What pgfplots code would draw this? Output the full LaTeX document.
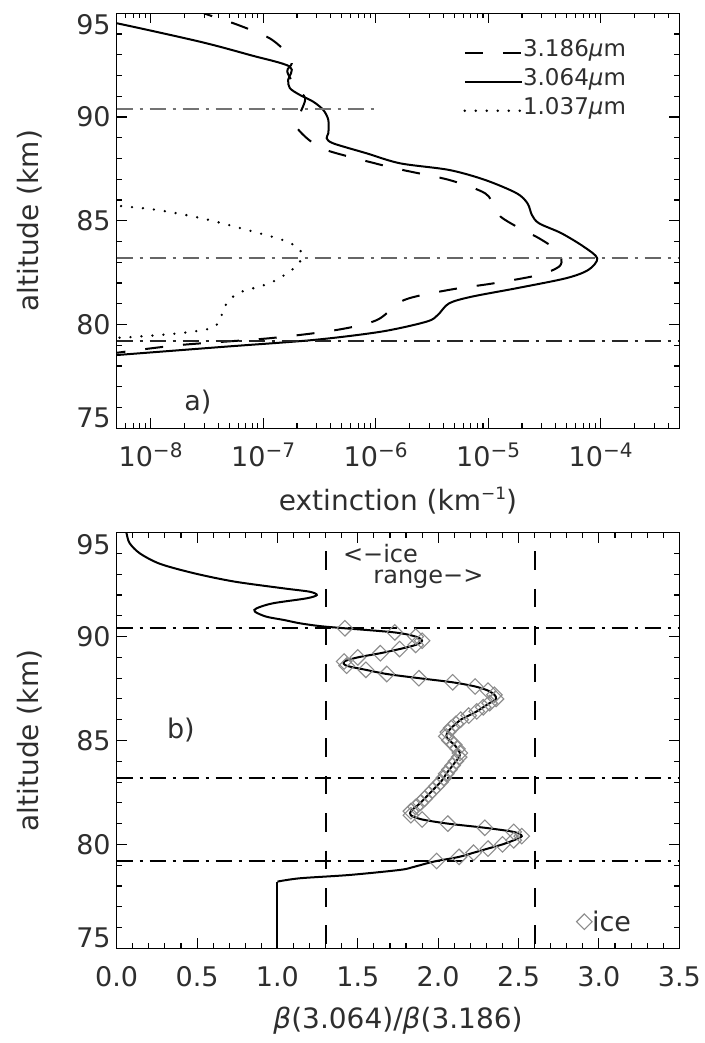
\documentclass[border=0pt]{standalone}
\usepackage{fontspec}
\setmainfont{DejaVu Sans}
\usepackage{pgfplots}
\usepackage{pgfplotstable}
\pgfplotsset{compat=1.18}

% extinction profiles: x = extinction (km^-1), y = altitude (km)
\pgfplotstableread{
x y
2.60e-8 95.30
3.00e-8 95.00
5.98e-8 94.44
1.14e-7 93.80
1.64e-7 93.07
1.80e-7 92.59
1.64e-7 92.19
1.98e-7 91.39
2.37e-7 90.90
2.13e-7 90.18
1.94e-7 89.62
2.37e-7 89.05
3.13e-7 88.57
4.52e-7 88.25
1.49e-6 87.53
4.49e-6 86.97
9.38e-6 86.33
1.13e-5 85.68
1.29e-5 85.20
1.79e-5 84.72
2.83e-5 84.16
4.08e-5 83.59
4.48e-5 83.19
4.27e-5 82.79
2.83e-5 82.39
1.13e-5 81.99
4.49e-6 81.67
1.79e-6 81.18
1.03e-6 80.22
4.52e-7 79.74
1.14e-7 79.34
1.81e-8 79.01
5.00e-9 78.64
4.00e-9 78.60
}\extC

\pgfplotstableread{
x y
4.00e-9 94.56
5.00e-9 94.52
2.75e-8 93.63
7.64e-8 92.99
1.73e-7 92.43
1.67e-7 91.79
1.73e-7 91.39
2.13e-7 91.06
2.79e-7 90.74
3.43e-7 90.34
3.80e-7 89.86
3.80e-7 89.22
3.67e-7 88.98
4.21e-7 88.73
8.34e-7 88.25
1.65e-6 87.77
4.50e-6 87.45
9.38e-6 86.97
1.79e-5 86.33
2.24e-5 85.84
2.45e-5 85.28
2.83e-5 84.88
4.48e-5 84.40
7.08e-5 83.75
9.33e-5 83.19
7.76e-5 82.63
4.91e-5 82.23
1.79e-5 81.75
7.11e-6 81.34
4.49e-6 81.02
3.57e-6 80.46
2.84e-6 80.14
1.13e-6 79.66
2.85e-7 79.26
4.54e-8 78.93
5.00e-9 78.53
4.00e-9 78.50
}\extB

\pgfplotstableread{
x y
5.47e-9 85.71
1.15e-8 85.52
2.86e-8 85.12
7.19e-8 84.56
1.50e-7 84.07
2.07e-7 83.67
2.21e-7 83.19
1.80e-7 82.63
1.14e-7 81.99
5.98e-8 81.51
4.54e-8 80.86
4.14e-8 80.22
3.44e-8 79.82
1.81e-8 79.58
7.23e-9 79.41
5.00e-9 79.36
}\extA

% backscatter ratio profile: x = beta(3.064)/beta(3.186), y = altitude (km)
\pgfplotstableread{
x y
0.050 95.20
0.060 95.00
0.080 94.50
0.145 94.00
0.270 93.50
0.480 93.05
0.730 92.65
1.040 92.32
1.200 92.16
1.245 92.00
1.180 91.84
0.970 91.60
0.870 91.36
0.860 91.20
0.930 90.96
1.040 90.80
1.140 90.64
1.270 90.50
1.420 90.40
1.730 90.20
1.860 90.00
1.900 89.80
1.860 89.60
1.760 89.40
1.640 89.20
1.500 89.00
1.415 88.80
1.430 88.60
1.550 88.40
1.680 88.20
1.880 88.00
2.090 87.80
2.230 87.60
2.310 87.40
2.350 87.20
2.360 87.00
2.320 86.80
2.280 86.60
2.240 86.40
2.190 86.20
2.140 86.00
2.110 85.80
2.080 85.60
2.060 85.40
2.050 85.20
2.070 85.00
2.100 84.80
2.120 84.60
2.135 84.40
2.130 84.20
2.110 84.00
2.090 83.80
2.070 83.60
2.050 83.40
2.035 83.20
2.015 83.00
1.990 82.80
1.965 82.60
1.940 82.40
1.915 82.20
1.890 82.00
1.860 81.80
1.830 81.60
1.830 81.40
1.900 81.20
2.060 81.00
2.290 80.80
2.470 80.60
2.520 80.40
2.470 80.20
2.400 80.00
2.310 79.80
2.220 79.60
2.130 79.40
1.990 79.20
1.930 79.09
1.840 78.90
1.760 78.77
1.450 78.53
1.140 78.37
1.000 78.21
}\ratio

\definecolor{icegray}{gray}{0.55}
\definecolor{ink}{gray}{0.18}

% strut that sets the height of each legend row
\newcommand{\legstrut}{\rule{0pt}{27.5pt}}

\pgfplotsset{
  panel/.style={
    scale only axis,
    width=562.6pt,
    height=415pt,
    anchor=south west,
    axis line style={line width=1.4pt},
    tick style={line width=1.1pt, black},
    major tick length=10pt,
    minor tick length=5pt,
    tick align=inside,
    ymin=75, ymax=95,
    ytick={75,80,85,90,95},
    minor ytick={76,77,78,79,81,82,83,84,86,87,88,89,91,92,93,94},
    yticklabels={\raisebox{1.2pt}[0pt][0pt]{75},80,85,90,\raisebox{-21.5pt}[0pt][0pt]{95}},
    tick label style={font=\fontsize{27}{32}\selectfont, text=ink},
    yticklabel style={xshift=-2.5pt},
    every axis y label/.style={at={(axis description cs:-0.155,0.5)},rotate=90,anchor=center,
      font=\fontsize{28}{33}\selectfont, text=ink},
    every axis x label/.style={at={(axis description cs:0.5,-0.175)},anchor=center,
      font=\fontsize{28}{33}\selectfont, text=ink},
    ylabel={altitude (km)},
  },
  dashdotline/.style={line width=1.9pt, dash pattern=on 16pt off 7pt on 3pt off 7pt},
  curve/.style={line width=2pt, black, smooth},
}

\begin{document}
\begin{tikzpicture}[x=1pt,y=1pt]
\path[use as bounding box] (0,0) rectangle (704,1043);

% a) extinction profiles
\begin{axis}[panel,
  at={(116.7pt,614.7pt)},
  xmode=log, log basis x=10,
  xmin=5e-9, xmax=5e-4,
  xtick={1e-8,1e-7,1e-6,1e-5,1e-4},
  xticklabels={10\raisebox{9pt}{\fontsize{20}{20}\selectfont −8},
               10\raisebox{9pt}{\fontsize{20}{20}\selectfont −7},
               10\raisebox{9pt}{\fontsize{20}{20}\selectfont −6},
               10\raisebox{9pt}{\fontsize{20}{20}\selectfont −5},
               10\raisebox{9pt}{\fontsize{20}{20}\selectfont −4}},
  minor xtick={6e-9,7e-9,8e-9,9e-9,
    2e-8,3e-8,4e-8,5e-8,6e-8,7e-8,8e-8,9e-8,
    2e-7,3e-7,4e-7,5e-7,6e-7,7e-7,8e-7,9e-7,
    2e-6,3e-6,4e-6,5e-6,6e-6,7e-6,8e-6,9e-6,
    2e-5,3e-5,4e-5,5e-5,6e-5,7e-5,8e-5,9e-5,
    2e-4,3e-4,4e-4},
  xticklabel style={yshift=-11pt},
  xlabel={extinction (km\raisebox{11pt}{\fontsize{17}{17}\selectfont −1})},
  legend style={draw=none, fill=none, at={(axis description cs:0.616,0.962)},
    anchor=north west, inner sep=0pt,
    nodes={inner sep=0pt, text=ink},
    font=\fontsize{23}{27}\selectfont},
  legend cell align=left,
  legend image code/.code={\draw[#1] (0pt,-9pt) -- (57pt,-9pt);},
]
\addplot[curve, dash pattern=on 18pt off 20pt] table {\extC};
\addlegendentry{\legstrut 3.186{\itshape μ}m}
\addplot[curve] table {\extB};
\addlegendentry{\legstrut 3.064{\itshape μ}m}
\addplot[curve, line width=2.6pt, line cap=round, dash pattern=on 0pt off 11pt] table {\extA};
\addlegendentry{\legstrut 1.037{\itshape μ}m}
\addplot[dashdotline, color=black!55, forget plot] coordinates {(5e-9,90.4) (1e-6,90.4)};
\addplot[dashdotline, color=black!60, forget plot] coordinates {(5e-9,83.2) (5e-4,83.2)};
\addplot[dashdotline, color=black!85, forget plot] coordinates {(5e-9,79.2) (5e-4,79.2)};
\node[font=\fontsize{27}{32}\selectfont, text=ink] at (rel axis cs:0.1445,0.063) {a)};
\end{axis}

% b) colour ratio profile
\begin{axis}[panel,
  at={(116.7pt,94.7pt)},
  height=415.6pt,
  xmin=0, xmax=3.5,
  xtick={0,0.5,1,1.5,2,2.5,3,3.5},
  xticklabels={0.0,0.5,1.0,1.5,2.0,2.5,3.0,3.5},
  minor x tick num=4,
  xticklabel style={yshift=-15pt},
  xlabel={{\itshape β}(3.064)/{\itshape β}(3.186)},
  legend style={draw=none, fill=none, at={(axis description cs:0.817,0.064)},
    anchor=west, inner sep=0pt,
    nodes={inner sep=0pt, text=ink},
    /tikz/every even column/.append style={column sep=6pt},
    font=\fontsize{27}{32}\selectfont},
  legend image code/.code={\draw[#1] plot coordinates {(8pt,0pt)};},
]
\addplot[only marks, mark=square, mark size=5.5pt,
  mark options={rotate=45, icegray, line width=1.1pt},
  restrict y to domain=79.15:90.45] table {\ratio};
\addlegendentry{ice}
\addplot[curve, forget plot] table {\ratio};
\addplot[line width=2pt, black, forget plot] coordinates {(1.0,78.21) (1.0,74.5)};
\addplot[line width=1.8pt, black, dash pattern=on 18.7pt off 18.7pt, dash phase=18.7pt, forget plot]
  coordinates {(1.3,95) (1.3,75)};
\addplot[line width=1.8pt, black, dash pattern=on 18.7pt off 18.7pt, dash phase=18.7pt, forget plot]
  coordinates {(2.6,95) (2.6,75)};
\addplot[dashdotline, black, forget plot] coordinates {(0,90.4) (3.5,90.4)};
\addplot[dashdotline, black, forget plot] coordinates {(0,83.2) (3.5,83.2)};
\addplot[dashdotline, black, forget plot] coordinates {(0,79.2) (3.5,79.2)};
\node[font=\fontsize{27}{32}\selectfont, text=ink] at (rel axis cs:0.114,0.525) {b)};
\node[font=\fontsize{24}{28}\selectfont, text=ink, anchor=west, inner sep=0pt] at (rel axis cs:0.402,0.951) {<−ice};
\node[font=\fontsize{24}{28}\selectfont, text=ink, anchor=west, inner sep=0pt] at (rel axis cs:0.456,0.889) {range−>};
\end{axis}
\end{tikzpicture}
\end{document}
